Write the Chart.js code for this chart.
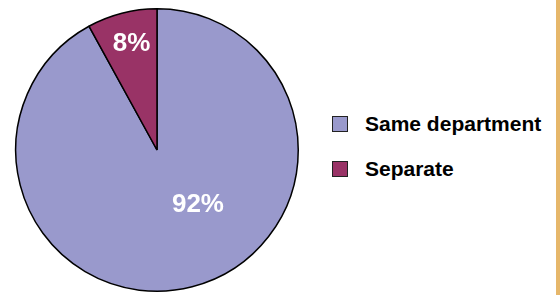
<!DOCTYPE html>
<html>
<head>
<meta charset="utf-8">
<script src="https://cdn.jsdelivr.net/npm/chart.js@4/dist/chart.umd.min.js"></script>
<style>
  html, body { margin: 0; padding: 0; background: #fff; }
  #wrap { position: relative; width: 560px; height: 295px; overflow: hidden; background: #fff; }
  #pie { position: absolute; left: 0; top: 0; width: 314px; height: 295px; }
  #strip { position: absolute; left: 556px; top: 0; width: 4px; height: 295px; background: #e6b76b; }
  #legend { position: absolute; left: 332px; top: 116px; font-family: "Liberation Sans", Arial, sans-serif; font-weight: bold; font-size: 21px; color: #000; }
  .item { position: relative; height: 16px; margin-bottom: 29px; }
  .box { position: absolute; left: 0; top: 0; width: 14px; height: 14px; border: 1px solid #222; }
  .txt { position: absolute; left: 33px; top: -5px; white-space: nowrap; line-height: 26px; }
</style>
</head>
<body>
<div id="wrap">
  <div id="pie"><canvas id="chart"></canvas></div>
  <div id="legend"></div>
  <div id="strip"></div>
</div>
<script>
const categories = ['Same department', 'Separate'];
const shares = [92, 8];
const sliceColors = ['#9999cc', '#993366'];

// where each % label sits, as a fraction of the radius from the centre
const labelSpots = [[0.29, 0.39], [-0.18, -0.75]];

const pctLabels = {
    id: 'pctLabels',
    afterDatasetsDraw(chart) {
        const ctx = chart.ctx;
        const arcs = chart.getDatasetMeta(0).data;
        ctx.save();
        ctx.fillStyle = '#fff';
        ctx.font = 'bold 26px "Liberation Sans", Arial, sans-serif';
        ctx.textAlign = 'center';
        ctx.textBaseline = 'middle';
        arcs.forEach(function(arc, i) {
            const r = arc.outerRadius;
            ctx.fillText(shares[i] + '%', arc.x + labelSpots[i][0] * r, arc.y + labelSpots[i][1] * r);
        });
        ctx.restore();
    }
};

const ctx = document.getElementById('chart').getContext('2d');
const myChart = new Chart(ctx, {
    type: 'pie',
    data: {
        labels: categories,
        datasets: [{
            data: shares,
            backgroundColor: sliceColors,
            borderColor: '#000',
            borderWidth: 1.5
        }]
    },
    options: {
        responsive: true,
        maintainAspectRatio: false,
        animation: false,
        layout: { padding: { top: 8, bottom: 3, left: 0, right: 0 } },
        plugins: {
            legend: { display: false },
            tooltip: { enabled: false }
        }
    },
    plugins: [pctLabels]
});

// html legend
const legend = document.getElementById('legend');
categories.forEach(function(name, i) {
    const item = document.createElement('div');
    item.className = 'item';
    item.innerHTML = '<div class="box" style="background:' + sliceColors[i] + '"></div><div class="txt">' + name + '</div>';
    legend.appendChild(item);
});
</script>
</body>
</html>
